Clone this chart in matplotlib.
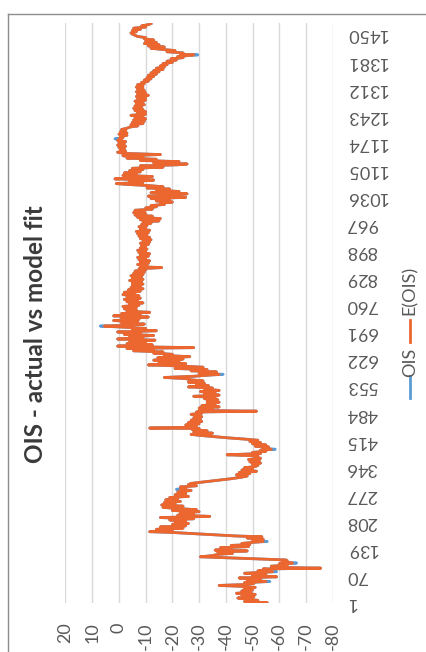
import matplotlib
matplotlib.use("Agg")
import matplotlib.pyplot as plt
from matplotlib.lines import Line2D

plt.rcParams['font.family'] = ['Lato', 'DejaVu Sans']

TITLE = "OIS - actual vs model fit"
SERIES_NAMES = ["OIS", "E(OIS)"]
N_OBS = 1478
cat_ticks = list(range(1, 1451, 69))
value_ticks = [20, 10, 0, -10, -20, -30, -40, -50, -60, -70, -80]

# observed OIS, as (observation number, value) pairs, in blocks along the sample
ois_block_a = [
    (1, -50), (2, -55.5), (5, -47), (8, -52), (11, -48), (14, -44.5), (17, -50.5), (20, -46),
    (23, -51), (26, -44), (29, -49.5), (32, -46), (35, -50), (38, -47), (41, -51), (44, -45),
    (46, -37.5), (48, -46), (51, -50.5), (53, -47), (56, -56.5), (59, -48), (62, -53), (65, -45),
    (68, -59), (71, -50), (74, -55), (77, -47), (81, -59), (83, -52), (86, -57), (88, -54),
    (90, -75.5), (92, -60), (95, -57), (98, -63), (101, -60), (103, -66.5), (106, -61),
    (109, -63), (111, -62.5), (115, -46),
]
ois_block_b = [
    (119, -30.5), (122, -35), (125, -37), (128, -42.5), (131, -37), (134, -48), (136, -36),
    (139, -42), (142, -38), (145, -48.5), (148, -42), (150, -49), (153, -46), (156, -50.5),
    (158, -55.5), (161, -50), (164, -54), (167, -48), (170, -53.5), (172, -44), (175, -36),
    (178, -28), (181, -20), (183, -11.5), (186, -20), (189, -14), (192, -24), (195, -15.5),
    (198, -25), (201, -20), (204, -26), (207, -21), (210, -25), (213, -19), (216, -28),
    (219, -15.5), (222, -34), (225, -22), (228, -28), (231, -23), (234, -30), (237, -20),
    (239, -29),
]
ois_block_c = [
    (242, -22), (245, -16.5), (248, -24), (251, -16), (254, -21), (257, -17), (260, -23),
    (264, -17.5), (267, -22), (270, -19), (273, -26), (277, -21), (280, -25), (284, -22),
    (288, -27), (291, -21.5), (294, -25), (297, -23), (300, -29), (303, -26), (306, -27),
    (310, -32), (314, -37), (318, -42), (322, -46), (325, -48), (328, -44), (331, -49),
    (334, -45), (337, -51.5), (340, -46), (343, -50), (346, -47), (349, -51), (352, -52),
    (355, -50), (358, -53), (361, -49), (364, -52.5), (367, -48.5), (370, -53), (373, -51),
    (376, -52), (379, -40.5), (382, -53), (385, -50), (388, -55), (391, -53), (393, -58.5),
    (396, -54), (399, -56), (401, -51), (404, -55), (407, -50), (410, -53), (413, -49),
    (416, -52), (419, -47), (422, -41), (425, -36), (428, -31), (431, -27), (434, -35),
    (437, -28), (440, -33), (443, -27.5), (446, -30), (447, -11.5), (449, -27), (452, -29),
    (455, -25), (458, -30), (461, -26), (464, -31), (467, -27), (470, -30.5), (473, -28),
    (476, -31), (479, -29),
]
ois_block_d = [
    (482, -27), (485, -31), (488, -29), (490, -51.5), (492, -30), (495, -35), (498, -30),
    (501, -37.5), (504, -31), (507, -36), (510, -33), (513, -37.5), (516, -33), (519, -37),
    (522, -32), (525, -36), (528, -28), (531, -37.5), (534, -32), (537, -36), (540, -30.5),
    (543, -37.5), (546, -32), (549, -35), (552, -26), (555, -33.5), (558, -29), (561, -32),
    (564, -26), (567, -31.5), (570, -27), (573, -25), (576, -17), (579, -28), (582, -34),
    (584, -39), (587, -30), (590, -36.5), (593, -27), (596, -33), (599, -21), (602, -31.5),
    (605, -24), (608, -11), (611, -25), (614, -15), (617, -22.5), (620, -13), (623, -24),
    (626, -14.5), (629, -26.5), (632, -17), (635, -20), (638, -13), (641, -16.5), (644, -5.5),
    (647, -13), (650, -3), (652, -28), (654, -8), (656, 0.5), (659, -12.5), (662, -3),
    (665, -10), (668, -4), (671, -13.5), (674, 0.5), (677, -9), (680, -4), (683, -13),
    (686, -2), (689, -8), (692, 0.5), (695, -14), (698, -5), (701, -10), (704, -2), (707, 7),
    (709, -3), (712, -9.5), (715, -1), (718, -7), (721, 2), (724, -7.5), (727, -1), (730, -11),
    (733, 2), (736, -8), (739, -1), (742, -11.5), (745, -3),
]
ois_block_e = [
    (748, -6.5), (751, -2), (754, -6.5), (757, -1.5), (760, -7.5), (763, -4), (766, -9),
    (769, -3), (772, -7), (775, -2), (778, -8), (781, -3), (784, -7.5), (787, -1.5), (790, -6),
    (793, -2), (796, -8), (799, -3.5), (802, -9), (805, -4.5), (808, -8), (811, -5), (814, -9),
    (817, -5), (820, -8.5), (823, -4), (826, -9), (829, -5), (832, -8.5), (835, -4.5),
    (838, -9), (841, -5.5), (844, -9.5), (847, -6), (850, -10), (853, -7.5), (856, -16),
    (858, -8), (861, -10.5), (864, -7), (867, -11), (870, -8), (873, -11.5), (876, -7.5),
    (879, -10), (882, -7), (885, -11), (888, -8), (891, -11.5), (894, -7.5), (897, -10),
    (900, -7), (903, -10.5), (906, -8), (909, -10), (912, -8.5), (915, -11), (918, -8),
    (921, -11.5), (924, -9), (927, -12), (930, -8), (933, -11.5), (936, -7.5), (939, -10.5),
    (942, -7), (945, -11), (948, -6.5), (951, -11.5), (954, -8), (957, -10), (960, -7.5),
    (963, -10.5), (966, -8.5), (969, -12), (972, -9), (975, -15), (978, -8), (981, -15.5),
    (984, -7), (987, -12.5), (990, -6), (993, -10), (996, -5.5), (999, -9.5),
]
ois_block_f = [
    (1002, -6), (1005, -12.5), (1008, -10), (1011, -14), (1014, -12), (1017, -17),
    (1020, -15.5), (1023, -20), (1026, -14), (1029, -19), (1032, -12), (1035, -25),
    (1038, -11), (1041, -20), (1044, -25.5), (1047, -12), (1050, -22.5), (1053, -14),
    (1056, -19), (1059, -10.5), (1062, -16.5), (1065, -11), (1068, -3), (1070, 1), (1073, -9),
    (1076, -4), (1079, -13), (1082, 1.5), (1085, -8), (1088, -12.5), (1091, -1.5),
    (1094, -6.5), (1097, -2), (1100, -8), (1103, -4), (1106, -9), (1109, -5), (1112, -16.5),
    (1115, -8), (1118, -22), (1120, -25.5), (1123, -13), (1126, -22.5), (1129, -8),
    (1132, -14), (1135, -3), (1138, -9), (1141, -1.5), (1144, -15.5), (1147, -2), (1150, 0.5),
    (1153, -2.5), (1156, -0.5), (1159, -2), (1162, 0), (1165, -2.5), (1168, 0.5), (1171, -2),
    (1174, 0), (1177, -2.5), (1180, 0.5), (1183, -1), (1184, 1.5), (1187, -1.5), (1190, -0.5),
    (1193, -3), (1196, 0), (1199, -3), (1202, -0.5), (1205, -2.5), (1208, -1), (1211, -3),
    (1214, -4), (1217, -7), (1220, -4.5), (1223, -9), (1226, -5), (1229, -9.5), (1232, -5.5),
    (1235, -10), (1238, -6), (1241, -9), (1244, -4.5), (1247, -10), (1250, -7),
]
ois_block_g = [
    (1253, -10), (1256, -6), (1259, -9), (1262, -5.5), (1265, -8.5), (1268, -6), (1271, -9.5),
    (1274, -6.5), (1277, -9), (1280, -6), (1283, -10), (1286, -7), (1289, -10), (1292, -6.5),
    (1295, -11), (1298, -7), (1301, -10), (1304, -6.5), (1307, -9.5), (1310, -7), (1313, -9),
    (1316, -6.5), (1319, -9), (1322, -7), (1325, -9.5), (1328, -8.5), (1331, -11),
    (1334, -9.5), (1337, -12), (1340, -10.5), (1343, -13), (1346, -11), (1349, -14),
    (1352, -12), (1355, -15), (1358, -13), (1361, -16.5), (1364, -14), (1367, -17),
    (1370, -15.5), (1373, -18), (1376, -16.5), (1379, -20), (1382, -18), (1385, -21.5),
    (1388, -19.5), (1391, -24), (1394, -22), (1396, -25.5), (1398, -29.5), (1400, -23),
    (1403, -24), (1406, -18), (1409, -21), (1412, -16), (1415, -12), (1418, -17), (1421, -11),
    (1424, -15), (1427, -9.5), (1430, -14), (1433, -10), (1436, -13), (1439, -9.5),
    (1442, -10), (1445, -7), (1448, -6), (1451, -5), (1454, -4.5), (1457, -6.5), (1460, -5),
    (1463, -8), (1466, -5.5), (1469, -10), (1472, -8.5), (1475, -11), (1478, -12),
]

# model-fitted values where the fit departs from the observed series
fit_departures = [
    (56, -55), (81, -57.5), (103, -65), (158, -54), (291, -23), (393, -57),
    (584, -37.5), (707, 5.5), (1184, 0), (1398, -28),
]

ois_points = (ois_block_a + ois_block_b + ois_block_c + ois_block_d
              + ois_block_e + ois_block_f + ois_block_g)
obs = [p[0] for p in ois_points]
ois_actual = [p[1] for p in ois_points]
fit_lookup = dict(fit_departures)
ois_fit = [fit_lookup.get(o, v) for o, v in zip(obs, ois_actual)]

BLUE = "#5B9BD5"
ORANGE = "#EC6730"
TEXT = "#595959"
GRID = "#D9D9D9"

W, H = 427, 652
fig = plt.figure(figsize=(W / 100, H / 100), dpi=100)
fig.patch.set_facecolor("white")

# plot area laid out in pixels: value axis runs horizontally, observations upward
left, right, top, bottom = 65.5, 332.7, 23.3, 603.3
ax = fig.add_axes([left / W, 1 - bottom / H, (right - left) / W, (bottom - top) / H])
ax.set_xlim(20, -80)
ax.set_ylim(0.5, N_OBS + 0.5)

ax.plot(ois_actual, obs, color=BLUE, lw=2.0, solid_joinstyle="round", zorder=3)
ax.plot(ois_fit, obs, color=ORANGE, lw=2.0, solid_joinstyle="round", zorder=4)

ax.set_xticks(value_ticks)
ax.set_xticklabels([str(v) for v in value_ticks])
ax.set_yticks(cat_ticks)
ax.set_yticklabels([str(c) for c in cat_ticks])
ax.grid(axis="x", color=GRID, lw=1.0)
ax.grid(axis="y", visible=False)
ax.set_axisbelow(True)
for s in ax.spines.values():
    s.set_visible(False)

ax.yaxis.tick_right()
ax.tick_params(axis="x", length=0, pad=14, labelrotation=90, labelsize=13, colors=TEXT)
ax.tick_params(axis="y", length=0, pad=9.5, labelrotation=180, labelsize=13, colors=TEXT)
for lab in ax.get_yticklabels():
    lab.set_verticalalignment("center")

# chart frame edges
fig.add_artist(Line2D([8 / W, 1], [1 - 14 / H, 1 - 14 / H], transform=fig.transFigure,
                      color="#8C8C8C", lw=1.0))
fig.add_artist(Line2D([8 / W, 8 / W], [0, 1 - 14 / H], transform=fig.transFigure,
                      color="#8C8C8C", lw=1.0))

# title runs upward, baseline on its right-hand side
fig.text(43 / W, 1 - 334.5 / H, TITLE, rotation=90, rotation_mode="anchor",
         ha="center", va="baseline", fontsize=17.5, fontweight="bold", color="#3A3A3A")

# legend, reading upward
lx = 410 / W
fig.add_artist(Line2D([lx, lx], [1 - 398 / H, 1 - 376 / H], transform=fig.transFigure,
                      color=BLUE, lw=2.0))
fig.text(lx, 1 - 362 / H, SERIES_NAMES[0], rotation=90, ha="center", va="center",
         fontsize=13, color=TEXT)
fig.add_artist(Line2D([lx, lx], [1 - 342 / H, 1 - 320 / H], transform=fig.transFigure,
                      color=ORANGE, lw=2.0))
fig.text(lx, 1 - 290 / H, SERIES_NAMES[1], rotation=90, ha="center", va="center",
         fontsize=13, color=TEXT)

fig.savefig("out.png", dpi=100)
